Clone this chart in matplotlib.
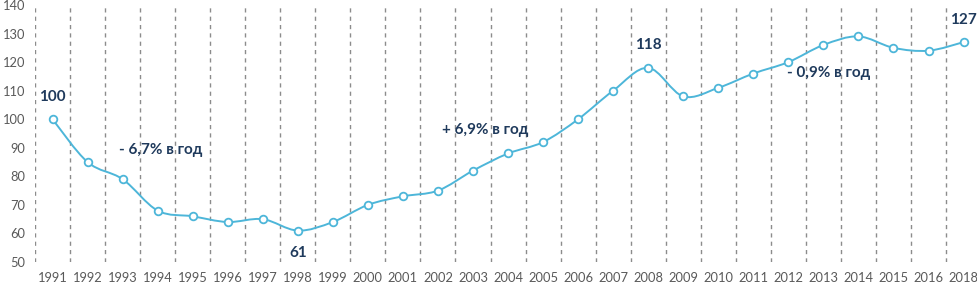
import matplotlib
matplotlib.use("Agg")
import matplotlib.pyplot as plt
from matplotlib.path import Path
from matplotlib.patches import PathPatch
import numpy as np

years = ["1991", "1992", "1993", "1994", "1995", "1996", "1997", "1998", "1999",
         "2000", "2001", "2002", "2003", "2004", "2005", "2006", "2007", "2008",
         "2009", "2010", "2011", "2012", "2013", "2014", "2015", "2016", "2018"]
values = [100, 85, 79, 68, 66, 64, 65, 61, 64,
          70, 73, 75, 82, 88, 92, 100, 110, 118,
          108, 111, 116, 120, 126, 129, 125, 124, 127]
y_ticks = [50, 60, 70, 80, 90, 100, 110, 120, 130, 140]

value_labels = [("100", 0, 107.8), ("61", 7, 53.2), ("118", 17, 126.0), ("127", 26, 134.7)]
period_labels = [("- 6,7% в год", 3.08, 89.2), ("+ 6,9% в год", 12.36, 96.2), ("- 0,9% в год", 22.15, 116.2)]

plt.rcParams['font.family'] = ['Lato', 'DejaVu Sans']

W, H = 978, 285
fig = plt.figure(figsize=(W / 100, H / 100), dpi=100)
spacing = 35.04
left_px = 35
ax = fig.add_axes([left_px / W, 23 / H, (W - left_px) / W, 257 / H])
x = np.arange(len(years))
ax.set_xlim(-0.5, -0.5 + (W - left_px) / spacing)
ax.set_ylim(50, 140)

line_color = "#4DB6D9"
text_color = "#1F3A5C"

# dashed category separators
for b in np.arange(-0.5, len(years) - 1, 1.0):
    ax.axvline(b, color="#8C8C8C", lw=1.0, ls=(0, (3, 3)), zorder=1)

# smooth line (Excel-style Bezier through data points)
pts = np.column_stack([x, values]).astype(float)
n = len(pts)
verts = [pts[0]]
codes = [Path.MOVETO]
for i in range(n - 1):
    p0 = pts[i - 1] if i > 0 else pts[i]
    p1 = pts[i]
    p2 = pts[i + 1]
    p3 = pts[i + 2] if i + 2 < n else pts[i + 1]
    c1 = p1 + (p2 - p0) / 6.0
    c2 = p2 - (p3 - p1) / 6.0
    verts += [c1, c2, p2]
    codes += [Path.CURVE4] * 3
patch = PathPatch(Path(verts, codes), facecolor="none", edgecolor=line_color, lw=1.4, zorder=2)
ax.add_patch(patch)
ax.plot(x, values, ls="none", marker="o", ms=5.5, mfc="white", mec=line_color, mew=1.3, zorder=3)

for t, xi, yi in value_labels:
    ax.text(xi, yi, t, ha="center", va="center", fontsize=11, fontweight="bold", color=text_color)
for t, xi, yi in period_labels:
    ax.text(xi, yi, t, ha="center", va="center", fontsize=11, fontweight="bold", color=text_color)

ax.set_xticks(x)
ax.set_xticklabels(years)
ax.set_yticks(y_ticks)
ax.tick_params(axis="both", length=0, labelsize=9.3, colors="#595959")
ax.tick_params(axis="x", pad=7)
ax.tick_params(axis="y", pad=7)
for s in ax.spines.values():
    s.set_visible(False)

fig.savefig("out.png", dpi=100)
